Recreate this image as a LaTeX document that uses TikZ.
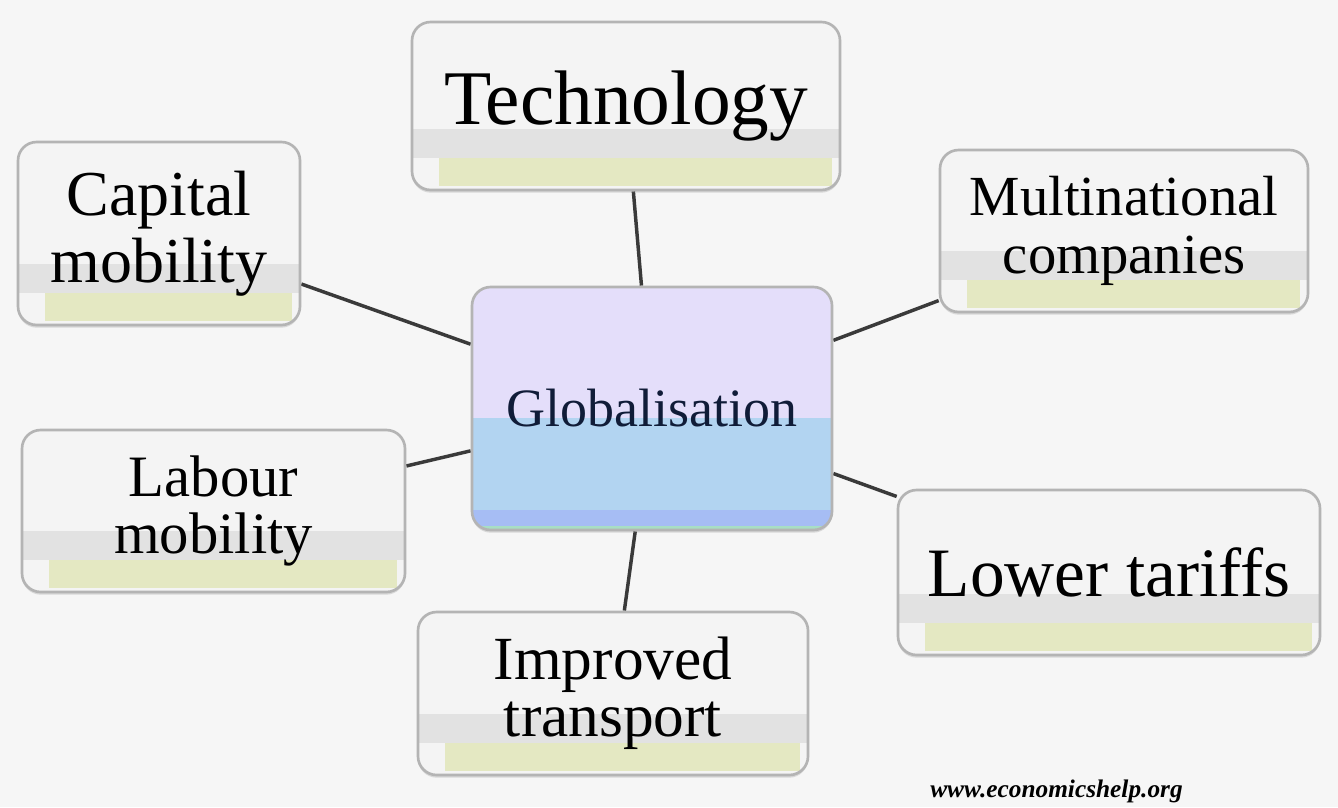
\documentclass[tikz,border=0pt]{standalone}
\usepackage{fontspec}
\setmainfont{Liberation Serif}
\usetikzlibrary{shadows}
\definecolor{pagebg}{HTML}{F6F6F6}
\definecolor{boxbg}{HTML}{F4F4F4}
\definecolor{boxline}{HTML}{B4B4B4}
\definecolor{bandgray}{HTML}{E2E2E2}
\definecolor{stripegreen}{HTML}{E4E8C2}
\definecolor{lavender}{HTML}{E4DEFA}
\definecolor{lightblue}{HTML}{B2D4F1}
\definecolor{deepblue}{HTML}{A6BDF4}
\definecolor{mint}{HTML}{A8DEC4}
\definecolor{linkgray}{HTML}{3A3A3A}
\definecolor{navy}{HTML}{101C38}
\pgfdeclarelayer{back}
\pgfdeclarelayer{lines}
\pgfsetlayers{back,lines,main}
\tikzset{
  box/.style={draw=boxline, line width=2pt, rounded corners=14pt, fill=boxbg,
    inner sep=0pt, align=center,
    drop shadow={shadow xshift=0pt, shadow yshift=-2pt, opacity=0.25},
    path picture={
      \fill[bandgray, sharp corners] ([yshift=24pt]path picture bounding box.south west) rectangle ([yshift=46pt]path picture bounding box.south east);
      \fill[stripegreen, sharp corners] ([xshift=20pt,yshift=3pt]path picture bounding box.south west) rectangle ([xshift=-6pt,yshift=24pt]path picture bounding box.south east);
    }},
  globbox/.style={draw=boxline, line width=2pt, rounded corners=14pt, fill=lavender,
    inner sep=0pt, align=center, text=navy,
    drop shadow={shadow xshift=0pt, shadow yshift=-2pt, opacity=0.25},
    path picture={
      \fill[lightblue, sharp corners] (path picture bounding box.south west) rectangle ([yshift=84pt]path picture bounding box.south east);
      \fill[deepblue, sharp corners] (path picture bounding box.south west) rectangle ([yshift=15pt]path picture bounding box.south east);
      \fill[mint, sharp corners] (path picture bounding box.south west) rectangle ([yshift=3pt]path picture bounding box.south east);
    }},
  link/.style={draw=linkgray, line width=2.6pt}
}
\begin{document}
\begin{tikzpicture}[x=0.75pt,y=-0.75pt]
\useasboundingbox (0,0) rectangle (1338,807);
\begin{pgfonlayer}{back}
\fill[pagebg] (0,0) rectangle (1338,807);
\end{pgfonlayer}

\node[box, minimum width=321pt, minimum height=126pt, font=\fontsize{58}{60}\selectfont] (tech) at (626,106) {Technology};
\node[box, minimum width=211.5pt, minimum height=137.25pt, font=\fontsize{48}{50}\selectfont] (cap) at (159,233.5) {Capital\\mobility};
\node[box, minimum width=276pt, minimum height=121.5pt, font=\fontsize{42.5}{43}\selectfont] (multi) at (1124,231) {Multinational\\companies};
\node[globbox, minimum width=270pt, minimum height=182.25pt, font=\fontsize{40.5}{42}\selectfont] (glob) at (652,408.5) {Globalisation};
\node[box, minimum width=287.25pt, minimum height=121.5pt, font=\fontsize{44}{43}\selectfont] (lab) at (213.5,511) {Labour\\mobility};
\node[box, minimum width=316.5pt, minimum height=123.75pt, font=\fontsize{52}{54}\selectfont] (low) at (1109,572.5) {Lower tariffs};
\node[box, minimum width=292.5pt, minimum height=122.25pt, font=\fontsize{46}{43}\selectfont] (imp) at (613,693.5) {Improved\\transport};

\node[font=\fontsize{19}{20}\selectfont\bfseries\itshape, anchor=base west, inner sep=0pt] (site) at (930,797) {www.economicshelp.org};

\begin{pgfonlayer}{lines}
\draw[link] (tech) -- (glob);
\draw[link] (cap) -- (glob);
\draw[link] (multi) -- (glob);
\draw[link] (lab) -- (glob);
\draw[link] (low) -- (glob);
\draw[link] (imp) -- (glob);
\end{pgfonlayer}
\end{tikzpicture}
\end{document}
